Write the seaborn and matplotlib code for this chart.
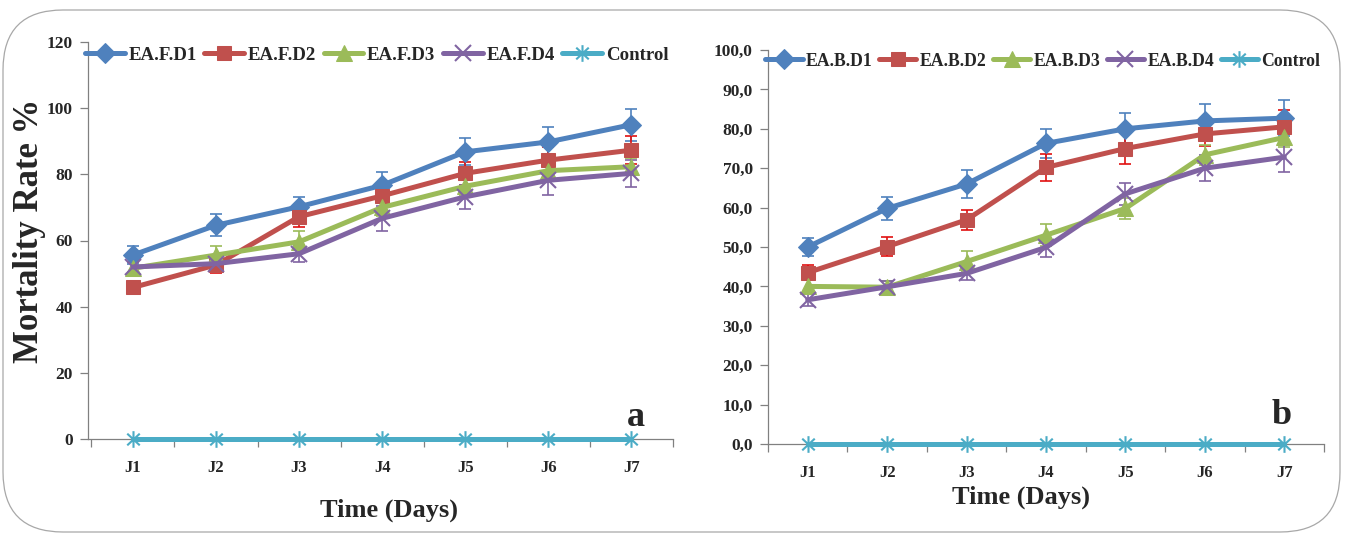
import numpy as np
import pandas as pd
import matplotlib
matplotlib.use("Agg")
import matplotlib.pyplot as plt
from matplotlib.patches import FancyBboxPatch
from matplotlib.path import Path
import seaborn as sns

# ---------------- data ----------------
days = ['J1', 'J2', 'J3', 'J4', 'J5', 'J6', 'J7']

a_labels = ['EA.F.D1', 'EA.F.D2', 'EA.F.D3', 'EA.F.D4', 'Control']
a_d1 = [55.6, 64.6, 70.2, 76.7, 86.8, 89.8, 95.0]
a_d2 = [45.8, 52.6, 67.2, 73.5, 80.3, 84.3, 87.3]
a_d3 = [51.6, 55.6, 59.6, 70.0, 76.4, 81.1, 82.3]
a_d4 = [52.0, 53.0, 56.0, 66.7, 73.2, 78.2, 80.3]
a_ctrl = [0, 0, 0, 0, 0, 0, 0]
a_err_d1 = [2.7, 3.3, 3.0, 4.0, 4.1, 4.5, 4.8]
a_err_d2 = [1.5, 2.4, 3.0, 2.0, 3.5, 4.0, 4.2]
a_err_d3 = [2.0, 2.8, 3.3, 2.5, 3.0, 2.5, 2.5]
a_err_d4 = [1.5, 2.0, 2.5, 3.8, 3.7, 4.3, 4.0]

b_labels = ['EA.B.D1', 'EA.B.D2', 'EA.B.D3', 'EA.B.D4', 'Control']
b_d1 = [50.0, 59.8, 66.0, 76.3, 80.0, 82.0, 82.7]
b_d2 = [43.5, 50.1, 56.9, 70.2, 75.0, 78.7, 80.5]
b_d3 = [40.0, 39.8, 46.3, 53.0, 59.8, 73.4, 77.8]
b_d4 = [36.6, 39.9, 43.3, 49.9, 63.5, 70.0, 72.8]
b_ctrl = [0, 0, 0, 0, 0, 0, 0]
b_err_d1 = [2.3, 2.9, 3.6, 3.7, 4.1, 4.2, 4.5]
b_err_d2 = [2.0, 2.5, 2.6, 3.5, 4.0, 3.0, 4.3]
b_err_d3 = [1.5, 1.5, 2.6, 2.8, 2.7, 2.5, 2.5]
b_err_d4 = [1.5, 1.5, 1.8, 2.5, 2.8, 3.3, 3.7]

a_ticks = [0, 20, 40, 60, 80, 100, 120]
b_ticks = [0, 10, 20, 30, 40, 50, 60, 70, 80, 90, 100]

# ---------------- style ----------------
sns.set_theme(style="white")
plt.rcParams['font.family'] = ['Liberation Serif', 'DejaVu Serif']
plt.rcParams['font.weight'] = 'bold'

colors = ['#4F81BD', '#C0504D', '#9BBB59', '#8064A2', '#4BACC6']
err_colors = ['#4F81BD', '#E01010', '#9BBB59', '#8064A2']

# Excel-like "star" marker: vertical bar plus an x
star = Path([(0, -1), (0, 1), (-0.75, -0.7), (0.75, 0.7), (-0.75, 0.7), (0.75, -0.7)],
            [Path.MOVETO, Path.LINETO, Path.MOVETO, Path.LINETO, Path.MOVETO, Path.LINETO])
markers = ['D', 's', '^', 'x', star]
msizes = [10, 10, 11, 12, 12]

fig = plt.figure(figsize=(13.46, 5.35), dpi=100)

# rounded frame
frame = FancyBboxPatch((0.03, 0.03), 13.37, 5.22,
                       boxstyle="round,pad=0,rounding_size=0.6",
                       transform=fig.dpi_scale_trans, fill=False,
                       ec='#A8A8A8', lw=0.9)
fig.patches.append(frame)

ax_a = fig.add_axes([88 / 1346, (535 - 439) / 535, 585 / 1346, 397 / 535])
ax_b = fig.add_axes([768 / 1346, (535 - 444) / 535, 556 / 1346, 394 / 535])


def draw_panel(ax, series, errs, labels, ticks, ylim, fmt, legend_y, xlim,
               leg_fs, leg_cs):
    handles = []
    for i, (vals, e) in enumerate(zip(series[:4], errs)):
        ax.errorbar(days, vals, yerr=e, fmt='none', ecolor=err_colors[i],
                    elinewidth=1.2, capsize=4, capthick=1.2, zorder=1)
    for i, vals in enumerate(series):
        df = pd.DataFrame({'day': days, 'value': vals})
        mk = markers[i]
        kw = dict(marker=mk, markersize=msizes[i], color=colors[i],
                  linewidth=3.6, label=labels[i], zorder=2 + i,
                  clip_on=False, markeredgecolor=colors[i])
        if i >= 3:
            kw.update(markeredgewidth=1.5)
        sns.lineplot(data=df, x='day', y='value', ax=ax, sort=False, **kw)
        handles.append(ax.lines[-1])

    ax.set_ylim(*ylim)
    ax.set_xlim(*xlim)
    ax.set_yticks(ticks)
    ax.set_yticklabels([fmt(t) for t in ticks], fontsize=12.5, fontweight='bold')
    ax.set_xticks(range(len(days)))
    ax.set_xticklabels(days, fontsize=12, fontweight='bold')
    ax.set_xticks(np.arange(-0.5, len(days), 1.0), minor=True)
    ax.tick_params(axis='x', which='major', length=0, pad=15)
    ax.tick_params(axis='x', which='minor', length=6, width=0.9,
                   color='#808080', direction='out', bottom=True)
    ax.tick_params(axis='y', which='major', length=6, width=0.9,
                   color='#808080', direction='out', left=True, pad=5)
    ax.set_xlabel('')
    ax.set_ylabel('')
    for s in ['top', 'right']:
        ax.spines[s].set_visible(False)
    for s in ['left', 'bottom']:
        ax.spines[s].set_color('#808080')
        ax.spines[s].set_linewidth(0.9)
    ax.grid(False)
    ax.legend(handles, labels, loc='center left',
              bbox_to_anchor=(-0.005, legend_y), ncol=5, frameon=False,
              handlelength=2.1, handletextpad=0.2,
              columnspacing=leg_cs, borderaxespad=0, borderpad=0,
              prop={'weight': 'bold', 'size': leg_fs})


draw_panel(ax_a, [a_d1, a_d2, a_d3, a_d4, a_ctrl],
           [a_err_d1, a_err_d2, a_err_d3, a_err_d4],
           a_labels, a_ticks, (0, 120), lambda t: f"{t:d}", 0.967,
           (-0.54, 6.5), 13.6, 0.4)
draw_panel(ax_b, [b_d1, b_d2, b_d3, b_d4, b_ctrl],
           [b_err_d1, b_err_d2, b_err_d3, b_err_d4],
           b_labels, b_ticks, (0, 100),
           lambda t: f"{t:.1f}".replace('.', ','), 0.972, (-0.5, 6.5),
           12.8, 0.35)

# axis titles & panel letters
fig.text(30 / 1346, (535 - 231) / 535, 'Mortality Rate %', rotation=90,
         ha='center', va='center', fontsize=25, fontweight='bold')
fig.text(389 / 1346, (535 - 510) / 535, 'Time (Days)', ha='center',
         va='center', fontsize=19, fontweight='bold')
fig.text(1021 / 1346, (535 - 497) / 535, 'Time (Days)', ha='center',
         va='center', fontsize=19, fontweight='bold')
fig.text(636 / 1346, (535 - 418) / 535, 'a', ha='center', va='center',
         fontsize=26, fontweight='bold')
fig.text(1282 / 1346, (535 - 415) / 535, 'b', ha='center', va='center',
         fontsize=26, fontweight='bold')

fig.savefig('out.png', dpi=100, facecolor='white')
